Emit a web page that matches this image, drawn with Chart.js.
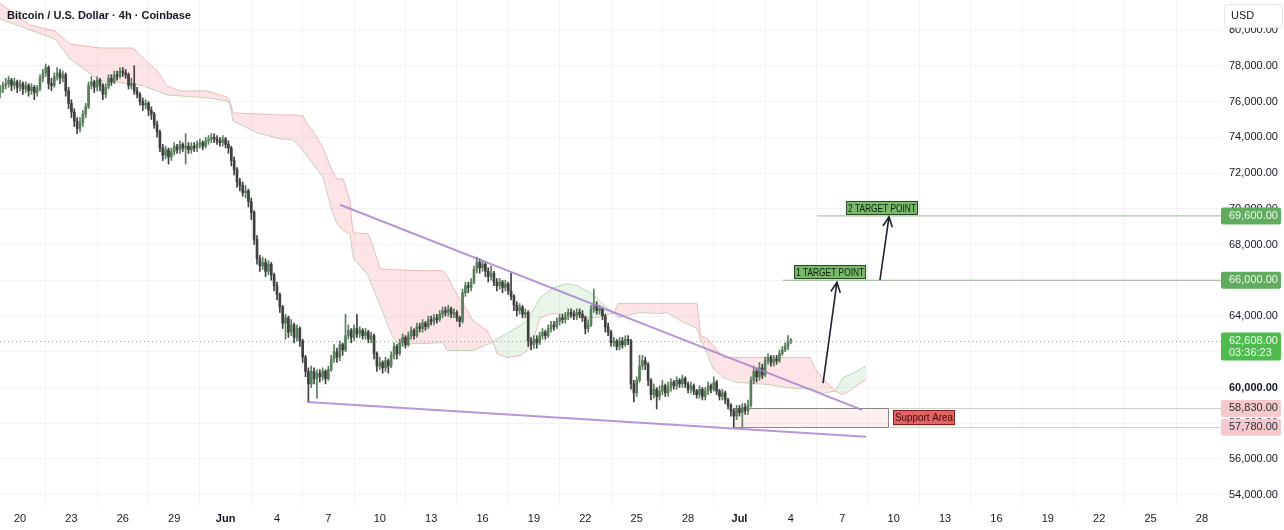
<!DOCTYPE html>
<html>
<head>
<meta charset="utf-8">
<script src="https://cdn.jsdelivr.net/npm/chart.js@4.4.1/dist/chart.umd.min.js"></script>
<style>
  html, body { margin: 0; padding: 0; background: #fff; }
  #wrap { width: 1284px; height: 530px; }
</style>
</head>
<body>
<div id="wrap"><canvas id="chart" width="1284" height="530"></canvas></div>
<script>
// BTC/USD 4h candles, first bar May 18 20:00, x axis counted in days from May 20
const axisOrigin = Date.UTC(2024, 4, 20);
const firstCandle = Date.UTC(2024, 4, 18, 20);
const barHours = 4;

const opens = [
  76500,76700,76900,77000,77200,76900,77100,76800,77000,76700,
  76900,76600,76800,76500,76700,77300,77600,77900,77000,76900,
  77400,77600,77300,77500,76600,75900,75400,74900,74500,74800,
  75300,75700,76900,77100,76800,77200,76900,76400,76800,77300,
  77100,77500,77400,77700,77600,77500,76900,77000,76600,76400,
  76000,75800,75900,75500,75300,74700,74300,73400,73000,73300,
  72900,73200,73500,73300,73600,73400,73500,73300,73500,73400,
  73600,73700,73500,73800,73900,74000,73900,73800,73700,73900,
  73600,73400,72700,72200,71500,71300,70900,71000,70400,69800,
  68300,67200,66800,67000,66500,66900,66300,65700,65200,64500,
  63600,63900,63100,63500,62800,63300,62600,61700,60900,60200,
  60900,60500,60800,60600,60900,60500,61000,61600,62000,61700,
  62400,62100,62900,63200,62800,63300,63000,63200,62900,63100,
  62700,62900,61900,61200,61400,61100,61500,61200,61800,62300,
  61900,62500,62800,62400,62900,63200,62900,63400,63300,63600,
  63400,63800,63700,63900,63800,64100,64300,64200,64400,64100,
  64200,63900,63700,65300,65700,65600,65900,66600,67000,66700,
  66900,66500,66200,66400,65900,65700,65900,65600,65800,65400,
  65100,64600,64300,64500,64100,64200,62600,62400,62700,62500,
  62900,63100,62900,63300,63500,63400,63700,63900,63800,64000,
  64200,64100,64000,64200,64100,63900,63300,63500,64400,64600,
  64300,64400,64000,63400,63100,62500,62600,62300,62600,62400,
  62700,62600,60200,59700,60400,61200,61500,61300,60400,59600,
  59900,59500,59800,60100,59700,60000,60300,60100,60400,60200,
  60500,60200,59900,60100,59800,59600,59900,59500,59800,60100,
  59900,60300,59800,59500,59700,59300,59000,58700,58400,58800,
  58600,58900,58700,59000,60400,60900,60600,61100,60700,61500,
  61700,61400,61600,61500,61900,62100,62300,62600
];
const highs = [
  76900,77100,77300,77400,77300,77300,77200,77200,77100,77100,
  77000,77000,76900,76900,77500,77800,78100,78000,77300,77600,
  77900,77800,77700,77600,76800,76100,75600,75100,75100,75500,
  75900,77100,77400,77200,77400,77300,77000,77000,77500,77500,
  77700,77700,77900,77900,77800,77600,77300,78000,76800,76500,
  76200,76100,76000,75700,75400,74900,74400,73600,73500,73400,
  73400,73700,73600,73800,73700,74200,73700,73700,73700,73800,
  73900,73800,74000,74100,74200,74200,74100,74000,74100,74000,
  73800,73500,72900,72300,71700,71500,71300,71100,70600,69900,
  68500,67400,67300,67200,67100,67000,66400,65900,65300,64600,
  64100,64000,63800,63600,63500,63400,62700,61800,61100,61200,
  61100,61000,61000,61100,61000,61200,61800,62400,62200,62600,
  62500,64100,63500,63300,63500,64100,63400,63300,63300,63200,
  63100,63000,62000,61700,61500,61700,61600,62000,62500,62400,
  62700,63000,62900,63100,63400,63300,63600,63600,63800,63700,
  64000,64000,64100,64100,64300,64500,64500,64600,64500,64400,
  64300,64000,65500,65900,65900,66100,66800,67300,67200,67100,
  67000,66700,66800,66500,66100,66100,66000,66000,65900,66400,
  65200,64800,64700,64600,64400,64300,62800,62900,62900,63100,
  63300,63200,63500,63700,63700,63900,64100,64100,64200,64400,
  64400,64300,64400,64400,64300,64000,63800,64600,65500,64800,
  64600,64500,64100,63600,63200,62800,62700,62800,62800,62900,
  62900,62700,60400,60600,61800,61800,61700,61400,60500,60200,
  60000,60100,60400,60200,60300,60500,60400,60600,60500,60700,
  60600,60300,60300,60200,59900,60100,60000,60000,60300,60200,
  60600,60400,59900,59900,59800,59400,59100,58800,59000,59000,
  59100,59100,59300,60600,61200,61100,61400,61300,61700,61900,
  61800,61800,61800,62100,62300,62500,62900,62750
];
const lows = [
  76200,76500,76700,76800,76600,76700,76500,76600,76400,76500,
  76300,76400,76100,76300,76600,77100,77400,76700,76600,76800,
  77200,77000,77100,76300,75600,75100,74600,74200,74300,74600,
  75100,75600,76700,76500,76600,76600,76100,76200,76700,76900,
  77000,77200,77300,77400,77300,76700,76700,76400,76200,75800,
  75500,75600,75200,75000,74500,74000,73200,72700,72800,72500,
  72700,73000,73100,73100,73200,72500,73100,73100,73200,73200,
  73400,73300,73400,73600,73700,73700,73600,73500,73500,73400,
  73100,72400,71900,71200,71000,70700,70600,70100,69400,68000,
  66900,66500,66600,66200,66300,66000,65400,64900,64200,63300,
  62700,62800,62900,62500,62600,62300,61400,60600,59200,60000,
  60200,59400,60300,60400,60200,60400,60900,61400,61400,61500,
  61800,62000,62700,62500,62600,62800,62800,62700,62700,62500,
  62500,61600,60900,61000,60800,60900,60800,61100,61600,61600,
  61800,62300,62200,62300,62700,62700,62800,63100,63100,63200,
  63300,63500,63500,63600,63700,63900,64000,64000,63900,63900,
  63700,63400,63600,65100,65300,65400,65800,66400,66400,66500,
  66200,65900,66000,65700,65400,65500,65300,65400,65200,64900,
  64300,64000,64100,63900,63900,62300,62100,62200,62200,62400,
  62700,62700,62800,63100,63200,63300,63500,63600,63600,63800,
  63900,63800,63800,63900,63700,63000,63100,63400,64200,64100,
  64100,63800,63100,62900,62300,62300,62100,62100,62200,62300,
  62400,59900,59200,59500,60300,61000,61000,60100,59300,59400,
  58800,59300,59600,59500,59500,59800,59900,59900,60000,60000,
  60000,59700,59700,59600,59400,59400,59300,59300,59600,59700,
  59800,59600,59300,59300,59100,58800,58400,57780,58200,58400,
  57800,58500,58500,58900,60200,60300,60400,60500,60600,61300,
  61200,61200,61300,61400,61800,62000,62100,62450
];
const closes = [
  76700,76900,77000,77200,76900,77100,76800,77000,76700,76900,
  76600,76800,76500,76700,77300,77600,77900,77000,76900,77400,
  77600,77300,77500,76600,75900,75400,74900,74500,74800,75300,
  75700,76900,77100,76800,77200,76900,76400,76800,77300,77100,
  77500,77400,77700,77600,77500,76900,77000,76600,76400,76000,
  75800,75900,75500,75300,74700,74300,73400,73000,73300,72900,
  73200,73500,73300,73600,73400,73500,73300,73500,73400,73600,
  73700,73500,73800,73900,74000,73900,73800,73700,73900,73600,
  73400,72700,72200,71500,71300,70900,71000,70400,69800,68300,
  67200,66800,67000,66500,66900,66300,65700,65200,64500,63600,
  63900,63100,63500,62800,63300,62600,61700,60900,60200,60900,
  60500,60800,60600,60900,60500,61000,61600,62000,61700,62400,
  62100,62900,63200,62800,63300,63000,63200,62900,63100,62700,
  62900,61900,61200,61400,61100,61500,61200,61800,62300,61900,
  62500,62800,62400,62900,63200,62900,63400,63300,63600,63400,
  63800,63700,63900,63800,64100,64300,64200,64400,64100,64200,
  63900,63700,65300,65700,65600,65900,66600,67000,66700,66900,
  66500,66200,66400,65900,65700,65900,65600,65800,65400,65100,
  64600,64300,64500,64100,64200,62600,62400,62700,62500,62900,
  63100,62900,63300,63500,63400,63700,63900,63800,64000,64200,
  64100,64000,64200,64100,63900,63300,63500,64400,64600,64300,
  64400,64000,63400,63100,62500,62600,62300,62600,62400,62700,
  62600,60200,59700,60400,61200,61500,61300,60400,59600,59900,
  59500,59800,60100,59700,60000,60300,60100,60400,60200,60500,
  60200,59900,60100,59800,59600,59900,59500,59800,60100,59900,
  60300,59800,59500,59700,59300,59000,58700,58400,58800,58600,
  58900,58700,59000,60400,60900,60600,61100,60700,61500,61700,
  61400,61600,61500,61900,62100,62300,62600,62608
];

// Ichimoku cloud (leading spans), x in days from May 20
const cloudDays = [
  -1.17, 0.58, 2.04, 2.92, 4.67, 6.60, 7.18, 8.00, 8.58, 9.34,
  10.92, 12.08, 12.26, 12.43, 13.84, 15.18, 15.94, 16.52, 16.75, 17.10,
  17.69, 18.21, 18.51, 18.86, 19.26, 19.44, 20.32, 20.55, 21.02, 21.77,
  22.18, 22.94, 23.76, 24.69, 24.93, 25.28, 25.86, 26.45, 27.26, 27.61,
  27.85, 28.43, 29.19, 29.60, 29.95, 30.36, 31.12, 31.93, 32.52, 33.10,
  33.68, 34.27, 34.68, 34.91, 36.19, 37.36, 37.77, 38.53, 39.52, 39.75,
  40.11, 40.46, 41.04, 41.86, 43.61, 45.13, 46.12, 46.41, 46.88, 47.58,
  48.04, 48.45, 48.86, 49.21, 49.39
];
const spanA = [
  80616, 80001, 79499, 78381, 77152, 76985, 76873, 76593, 76370, 76314,
  76202, 76035, 75811, 74917, 74247, 73912, 73856, 73241, 72962, 72515,
  71733, 69889, 69163, 68772, 68604, 67263, 66257, 65699, 64581, 62794,
  62291, 62458, 62458, 62514, 62067, 62067, 62067, 62067, 62402, 62540,
  62738, 63017, 63464, 63743, 64302, 65028, 65587, 65810, 65699, 65419,
  65028, 64470, 64160, 63911, 64190, 64134, 64190, 63743, 63296, 62626,
  61900, 61062, 60559, 60279, 60168, 59944, 59944, 59832, 59665, 59800,
  60559, 60726, 60894, 61117, 61173
];
const spanB = [
  81509, 80281, 79946, 79219, 78996, 78996, 78437, 77711, 76873, 76593,
  76593, 76258, 76035, 75364, 75308, 75252, 75252, 75196, 74750, 74359,
  73409, 72124, 71677, 71677, 70447, 68660, 68604, 68045, 66648, 66592,
  66592, 66537, 66537, 66537, 66257, 65587, 64693, 63743, 63185, 62540,
  61900, 61676, 61788, 62067, 62626, 63911, 64134, 64078, 64023, 63911,
  63911, 64078, 64160, 64693, 64693, 64693, 64693, 64693, 64693, 62905,
  62738, 62347, 61676, 61676, 61676, 61676, 61676, 61062, 60503, 59800,
  59609, 59832, 60112, 60335, 60447
];

// axes
const xTickDays = [0, 3, 6, 9, 12, 15, 18, 21, 24, 27, 30, 33, 36, 39, 42, 45, 48, 51, 54, 57, 60, 63, 66, 69];
const xTickLabels = ['20', '23', '26', '29', 'Jun', '4', '7', '10', '13', '16', '19', '22', '25', '28', 'Jul', '4', '7', '10', '13', '16', '19', '22', '25', '28'];
const priceTicks = [54000, 56000, 58000, 60000, 62000, 64000, 66000, 68000, 70000, 72000, 74000, 76000, 78000, 80000];

// drawings
const resistanceDays = [18.68, 49.15];
const resistancePrices = [70223, 58747];
const supportLineDays = [16.75, 49.39];
const supportLinePrices = [59192, 57242];
const targetLevels = [66000, 69600];
const targetStartDays = [44.54, 46.53];
const targetLabelDays = [47.29, 50.32];
const targetNames = ['1 TARGET POINT', '2 TARGET POINT'];
const arrowFromDays = [46.88, 50.20];
const arrowFromPrices = [60250, 66000];
const arrowToDays = [47.69, 50.73];
const arrowToPrices = [65880, 69550];
const supportZoneDays = [41.62, 50.67];
const supportZone = [58830, 57780];
const supportLabelDay = 50.96;
const lastPrice = 62608;
const countdown = '03:36:23';

const xMin = -1.17, xMax = 70.17;
const yMin = 53370, yMax = 81680;

const FONT = '"Liberation Sans", Arial, sans-serif';
const fmt = v => v.toLocaleString('en-US', { minimumFractionDigits: 2, maximumFractionDigits: 2 });

const candleDays = opens.map((_, i) => (firstCandle + i * barHours * 3600000 - axisOrigin) / 86400000);
const candleColors = closes.map((c, i) => (c >= opens[i] ? '#5a7f5c' : '#404040'));

function lineSet(days, prices, color, width, order) {
  return {
    type: 'line',
    data: days.map((d, i) => ({ x: d, y: prices[i] })),
    borderColor: color,
    borderWidth: width,
    pointRadius: 0,
    fill: false,
    tension: 0,
    order: order
  };
}

function roundRect(ctx, x, y, w, h, r) {
  ctx.beginPath();
  ctx.moveTo(x + r, y);
  ctx.arcTo(x + w, y, x + w, y + h, r);
  ctx.arcTo(x + w, y + h, x, y + h, r);
  ctx.arcTo(x, y + h, x, y, r);
  ctx.arcTo(x, y, x + w, y, r);
  ctx.closePath();
}

// text squeezed to a given width (the labels use a narrow face)
function boxText(ctx, text, cx, cy, w, h, bg, border, fg, size) {
  ctx.fillStyle = bg;
  ctx.fillRect(cx - w / 2, cy - h / 2, w, h);
  ctx.strokeStyle = border;
  ctx.lineWidth = 1;
  ctx.strokeRect(Math.round(cx - w / 2) + 0.5, Math.round(cy - h / 2) + 0.5, Math.round(w) - 1, Math.round(h) - 1);
  ctx.font = size + 'px ' + FONT;
  const tw = ctx.measureText(text).width;
  const sx = Math.min(1, (w - 4) / tw);
  ctx.save();
  ctx.translate(cx, cy + 0.5);
  ctx.scale(sx, 1);
  ctx.fillStyle = fg;
  ctx.textAlign = 'center';
  ctx.textBaseline = 'middle';
  ctx.fillText(text, 0, 0);
  ctx.restore();
}

function arrow(ctx, x0, y0, x1, y1) {
  const ang = Math.atan2(y1 - y0, x1 - x0);
  const len = 11;
  ctx.beginPath();
  ctx.moveTo(x0, y0);
  ctx.lineTo(x1, y1);
  ctx.moveTo(x1 - len * Math.cos(ang - 0.45), y1 - len * Math.sin(ang - 0.45));
  ctx.lineTo(x1, y1);
  ctx.lineTo(x1 - len * Math.cos(ang + 0.45), y1 - len * Math.sin(ang + 0.45));
  ctx.stroke();
}

const overlay = {
  id: 'overlay',
  beforeDatasetsDraw(chart) {
    const { ctx, chartArea: a, scales: { x, y } } = chart;
    ctx.save();
    // support area box
    const bx0 = x.getPixelForValue(supportZoneDays[0]);
    const bx1 = x.getPixelForValue(supportZoneDays[1]);
    const by0 = y.getPixelForValue(supportZone[0]);
    const by1 = y.getPixelForValue(supportZone[1]);
    ctx.fillStyle = 'rgba(242,54,69,0.08)';
    ctx.fillRect(bx0, by0, bx1 - bx0, by1 - by0);
    ctx.strokeStyle = '#8a8a8a';
    ctx.lineWidth = 1;
    ctx.strokeRect(Math.round(bx0) + 0.5, Math.round(by0) + 0.5, Math.round(bx1 - bx0), Math.round(by1 - by0));
    ctx.strokeStyle = 'rgba(150,150,150,0.45)';
    supportZone.forEach(p => {
      const py = Math.round(y.getPixelForValue(p)) + 0.5;
      ctx.beginPath();
      ctx.moveTo(bx1, py);
      ctx.lineTo(a.right, py);
      ctx.stroke();
    });
    // last price line
    const ly = Math.round(y.getPixelForValue(lastPrice)) + 0.5;
    ctx.strokeStyle = 'rgba(110,170,110,0.8)';
    ctx.setLineDash([1, 3]);
    ctx.beginPath();
    ctx.moveTo(a.left, ly);
    ctx.lineTo(a.right, ly);
    ctx.stroke();
    ctx.restore();
  },
  afterDatasetsDraw(chart) {
    const { ctx, scales: { x, y } } = chart;
    ctx.save();
    ctx.strokeStyle = '#1e222d';
    ctx.lineWidth = 1.6;
    arrowFromDays.forEach((d, i) => {
      arrow(ctx, x.getPixelForValue(d), y.getPixelForValue(arrowFromPrices[i]),
        x.getPixelForValue(arrowToDays[i]), y.getPixelForValue(arrowToPrices[i]));
    });
    targetNames.forEach((t, i) => {
      const cx = x.getPixelForValue(targetLabelDays[i]);
      const cy = y.getPixelForValue(targetLevels[i]) - 8;
      boxText(ctx, t, cx, cy, 72, 14, '#79b76b', '#2f4a2a', '#0d220c', 11.5);
    });
    const sy = (y.getPixelForValue(supportZone[0]) + y.getPixelForValue(supportZone[1])) / 2;
    const sx = x.getPixelForValue(supportLabelDay);
    boxText(ctx, 'Support Area', sx + 31, sy, 62, 15, '#e06464', '#8a1f1f', '#4a0505', 11);
    ctx.restore();
  },
  afterDraw(chart) {
    const { ctx, chartArea: a, scales: { y } } = chart;
    ctx.save();
    // legend title
    ctx.font = 'bold 11px ' + FONT;
    ctx.fillStyle = '#131722';
    ctx.textBaseline = 'alphabetic';
    ctx.fillText('Bitcoin / U.S. Dollar \u00b7 4h \u00b7 Coinbase', 7, 19);
    // currency box
    ctx.fillStyle = '#ffffff';
    roundRect(ctx, a.right + 2.5, 4.5, 58, 23, 3);
    ctx.fill();
    ctx.strokeStyle = '#e3e5ea';
    ctx.lineWidth = 1;
    ctx.stroke();
    ctx.font = '11px ' + FONT;
    ctx.fillStyle = '#131722';
    ctx.textBaseline = 'middle';
    ctx.fillText('USD', a.right + 9, 16);
    // price tags on the axis
    const tags = [
      { p: targetLevels[1], bg: '#60ac5e', fg: '#eef8ee', lines: [fmt(targetLevels[1])] },
      { p: targetLevels[0], bg: '#60ac5e', fg: '#eef8ee', lines: [fmt(targetLevels[0])] },
      { p: supportZone[0], bg: '#f6c9cd', fg: '#2a2e39', lines: [fmt(supportZone[0])] },
      { p: supportZone[1], bg: '#f6c9cd', fg: '#2a2e39', lines: [fmt(supportZone[1])] },
      { p: lastPrice, bg: '#4fbb4f', fg: '#eefbee', lines: [fmt(lastPrice), countdown] }
    ];
    tags.forEach(t => {
      const py = y.getPixelForValue(t.p);
      const h = t.lines.length === 1 ? 17 : 28;
      ctx.fillStyle = t.bg;
      roundRect(ctx, a.right - 1, py - 8.5, 60, h, 2);
      ctx.fill();
      ctx.fillStyle = t.fg;
      ctx.font = '11px ' + FONT;
      t.lines.forEach((s, k) => ctx.fillText(s, a.right + 7, py + k * 12));
    });
    ctx.restore();
  }
};

new Chart(document.getElementById('chart'), {
  type: 'bar',
  data: {
    datasets: [
      {
        type: 'line',
        data: cloudDays.map((d, i) => ({ x: d, y: spanA[i] })),
        borderColor: 'rgba(120,175,120,0.45)',
        borderWidth: 1,
        pointRadius: 0,
        tension: 0,
        fill: { target: '+1', above: 'rgba(76,175,80,0.13)', below: 'rgba(242,54,69,0.13)' },
        order: 10
      },
      {
        type: 'line',
        data: cloudDays.map((d, i) => ({ x: d, y: spanB[i] })),
        borderColor: 'rgba(235,140,140,0.55)',
        borderWidth: 1,
        pointRadius: 0,
        tension: 0,
        fill: false,
        order: 10
      },
      {
        data: candleDays.map((d, i) => ({ x: d, y: [lows[i], highs[i]] })),
        backgroundColor: candleColors,
        barThickness: 1,
        grouped: false,
        order: 3
      },
      {
        data: candleDays.map((d, i) => ({ x: d, y: [opens[i], closes[i]] })),
        backgroundColor: candleColors,
        barThickness: 2,
        minBarLength: 1,
        grouped: false,
        order: 2
      },
      lineSet(resistanceDays, resistancePrices, 'rgba(165,125,205,0.8)', 2, 1),
      lineSet(supportLineDays, supportLinePrices, 'rgba(165,125,205,0.8)', 2, 1),
      lineSet([targetStartDays[0], xMax], [targetLevels[0], targetLevels[0]], 'rgba(110,160,100,0.75)', 1, 1),
      lineSet([targetStartDays[1], xMax], [targetLevels[1], targetLevels[1]], 'rgba(110,160,100,0.75)', 1, 1)
    ]
  },
  options: {
    responsive: false,
    animation: false,
    devicePixelRatio: 1,
    events: [],
    layout: { padding: 0 },
    plugins: { legend: { display: false }, tooltip: { enabled: false } },
    scales: {
      x: {
        type: 'linear',
        min: xMin,
        max: xMax,
        offset: false,
        afterBuildTicks: s => { s.ticks = xTickDays.map(v => ({ value: v })); },
        afterFit: s => { s.height = 24; s.paddingLeft = 0; s.paddingRight = 0; },
        grid: { color: '#f2f3f5', drawTicks: false },
        border: { display: false },
        ticks: {
          autoSkip: false,
          maxRotation: 0,
          padding: 6,
          color: '#131722',
          font: ctx => ({ family: FONT, size: 11, weight: /^[A-Z]/.test(xTickLabels[ctx.index] || '') ? 'bold' : 'normal' }),
          callback: (v, i) => xTickLabels[i]
        }
      },
      y: {
        position: 'right',
        min: yMin,
        max: yMax,
        afterBuildTicks: s => { s.ticks = priceTicks.map(v => ({ value: v })); },
        afterFit: s => { s.width = 62; s.paddingTop = 0; s.paddingBottom = 0; },
        grid: { color: '#f2f3f5', drawTicks: false },
        border: { display: false },
        ticks: {
          padding: 7,
          color: '#131722',
          font: ctx => ({ family: FONT, size: 11, weight: ctx.tick && ctx.tick.value === 60000 ? 'bold' : 'normal' }),
          callback: v => fmt(v)
        }
      }
    }
  },
  plugins: [overlay]
});
</script>
</body>
</html>
